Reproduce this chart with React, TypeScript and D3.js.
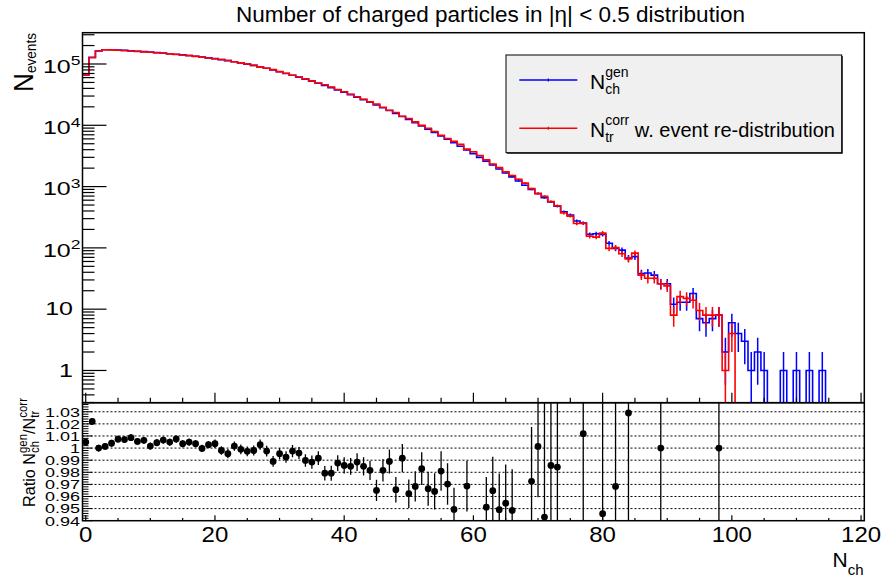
import React, { useEffect, useRef } from "react";
import * as d3 from "d3";

const FONT = "'Liberation Sans', Arial, Helvetica, sans-serif";

// ---------------- data (bins of width 1, centres 0..120) ----------------
const binCentres = d3.range(0, 121);

const genCounts = [
  66000, 129000, 163000, 171000, 170500, 169000, 166800, 164000, 161400, 158900,
  156000, 153100, 150300, 147200, 144200, 141000, 137400, 133700, 129700, 125900,
  122200, 118000, 113500, 108900, 104200, 99500, 94800, 89900, 85100, 80000,
  74800, 70100, 65500, 61000, 56600, 52500, 48500, 44800, 41200, 37800,
  34700, 31600, 28800, 26200, 23700, 21400, 19300, 17400, 15600, 13900,
  12400, 11000, 9800, 8650, 7640, 6730, 5920, 5190, 4540, 3960,
  3450, 3000, 2600, 2250, 1940, 1670, 1440, 1230, 1050, 900,
  770, 656, 562, 479, 389, 344, 275, 254, 166, 170,
  166, 119, 98, 92, 68, 72, 38, 39, 36, 26,
  26, 12, 13, 13, 18, 7, 6, 7, 8, 2,
  6, 4, 3, 1, 2, 1, 0, 0, 1, 0,
  1, 0, 1, 0, 1, 0, 0, 0, 0, 0,
  0,
];

const corrCounts = [
  65670, 126200, 163000, 170760, 169820, 167760, 165640, 162600, 160520, 157890,
  155740, 152410, 149310, 146470, 143130, 140490, 136720, 133220, 129740, 125550,
  121760, 118240, 114020, 108710, 104300, 99770, 94990, 89650, 85310, 80890,
  75150, 70620, 65660, 61250, 57180, 53120, 48910, 45750, 42070, 38270,
  35200, 32080, 29140, 26600, 24140, 22180, 19660, 17590, 16160, 14020,
  12890, 11360, 9970, 8950, 7920, 6860, 6100, 5470, 4880, 4090,
  3710, 3210, 2730, 2330, 2040, 1750, 1520, 1320, 1140, 925,
  769, 696, 570, 487, 370, 330, 250, 251, 155, 150,
  175, 98, 101, 80, 66, 82, 36, 32, 32, 26,
  24, 8, 16, 15, 14, 9.5, 8, 8, 8, 1,
  4, 0, 0, 0, 0, 0, 0, 0, 0, 0,
  0, 0, 0, 0, 0, 0, 0, 0, 0, 0,
  0,
];

// ratio gen/corr for bins 0..98 (null = outside the drawn range)
const ratioValues: (number | null)[] = [
  1.005, 1.022, 1.0, 1.0014, 1.004, 1.0074, 1.007, 1.0086, 1.0055, 1.0064,
  1.0017, 1.0045, 1.0066, 1.005, 1.0075, 1.0036, 1.005, 1.0036, 0.9997, 1.0028,
  1.0036, 0.998, 0.9954, 1.0017, 0.999, 0.9973, 0.998, 1.0028, 0.9975, 0.989,
  0.9954, 0.9926, 0.9975, 0.9959, 0.9898, 0.9884, 0.9917, 0.9793, 0.9793, 0.9876,
  0.9857, 0.9849, 0.9884, 0.9849, 0.9816, 0.965, 0.9816, 0.989, 0.9656, 0.9917,
  0.9623, 0.9683, 0.983, 0.9664, 0.9642, 0.981, 0.9703, 0.9493, null, 0.9686,
  null, null, 0.9512, 0.9648, 0.9491, 0.9545, 0.9485, null, null, 0.9725,
  1.0014, 0.943, 0.9857, 0.9843, null, null, null, 1.0119, null, null,
  0.9458, null, 0.9683, null, 1.029, null, null, null, null, 1.0,
  null, null, null, null, null, null, null, null, 1.0,
];

const ratioErrors: (number | null)[] = [
  0.0028, 0.0028, 0.0028, 0.0028, 0.0028, 0.0028, 0.0028, 0.0028, 0.0028, 0.0028,
  0.003, 0.003, 0.003, 0.003, 0.003, 0.003, 0.003, 0.003, 0.003, 0.003,
  0.0035, 0.0035, 0.0038, 0.0038, 0.004, 0.004, 0.0042, 0.0042, 0.0045, 0.0045,
  0.0047, 0.0048, 0.005, 0.005, 0.0052, 0.0055, 0.0057, 0.006, 0.0062, 0.0065,
  0.0068, 0.007, 0.0073, 0.0076, 0.008, 0.0088, 0.0092, 0.0099, 0.0105, 0.0116,
  0.0118, 0.0125, 0.0135, 0.014, 0.015, 0.0163, 0.0171, 0.018, null, 0.021,
  null, null, 0.025, 0.028, 0.03, 0.032, 0.034, null, null, 0.045,
  0.042, 0.1, 0.06, 0.06, null, null, null, 0.2, null, null,
  0.2, null, 0.2, null, 0.2, null, null, null, null, 0.2,
  null, null, null, null, null, null, null, null, 0.2,
];

const xTickValues = [0, 20, 40, 60, 80, 100, 120];
const xTickLabels = ["0", "20", "40", "60", "80", "100", "120"];
const logTickValues = [1, 10, 100, 1000, 10000, 100000];
const logTickLabels = ["1", "10", "10^2", "10^3", "10^4", "10^5"];
const ratioTickValues = [1.03, 1.02, 1.01, 1.0, 0.99, 0.98, 0.97, 0.96, 0.95, 0.94];
const ratioTickLabels = ["1.03", "1.02", "1.01", "1", "0.99", "0.98", "0.97", "0.96", "0.95", "0.94"];

const titleText = "Number of charged particles in |\u03b7| < 0.5 distribution";
const legendLabels = [
  { main: "N", sup: "gen", sub: "ch", tail: "" },
  { main: "N", sup: "corr", sub: "tr", tail: " w. event re-distribution" },
];

// ---------------- layout ----------------
const X0 = 82.5, X1 = 864.3;
const TY0 = 32.7, TY1 = 402.7;
const BY0 = 402.7, BY1 = 520.7;
const BLUE = "#0000ff";
const RED = "#ff0000";

type Piece =
  | { t: string; size: number; shift?: number }
  | { sup: string; sub: string; size: number; supShift: number; subShift: number };

function latex(
  parent: d3.Selection<any, any, any, any>,
  x: number,
  y: number,
  pieces: Piece[],
  opt: { anchor?: "start" | "end" | "middle"; rotate?: number; sx?: number; sy?: number; fitLength?: number } = {}
) {
  const outer = parent.append("g");
  const inner = outer.append("g");
  let cursor = 0;
  const addText = (t: string, size: number, dx: number, dy: number) => {
    const el = inner
      .append("text")
      .attr("x", dx)
      .attr("y", dy)
      .attr("font-family", FONT)
      .attr("font-size", size)
      .attr("fill", "#000")
      .style("white-space", "pre")
      .text(t);
    return (el.node() as SVGTextElement).getComputedTextLength();
  };
  for (const p of pieces) {
    if ("t" in p) {
      cursor += addText(p.t, p.size, cursor, p.shift || 0);
    } else {
      const w1 = addText(p.sup, p.size, cursor, p.supShift);
      const w2 = addText(p.sub, p.size, cursor, p.subShift);
      cursor += Math.max(w1, w2);
    }
  }
  const total = cursor;
  const anchor = opt.anchor || "start";
  const off = anchor === "end" ? -total : anchor === "middle" ? -total / 2 : 0;
  inner.attr("transform", `translate(${off},0)`);
  let sx = opt.sx ?? 1;
  if (opt.fitLength) sx = opt.fitLength / total;
  const sy = opt.sy ?? 1;
  outer.attr("transform", `translate(${x},${y}) rotate(${opt.rotate || 0}) scale(${sx},${sy})`);
  return outer;
}

function draw(svgEl: SVGSVGElement) {
  const svg = d3.select(svgEl);
  svg.selectAll("*").remove();

  const x = d3.scaleLinear().domain([-0.5, 120.5]).range([X0, X1]);
  const yTop = d3.scaleLog().domain([0.298, 3.24e5]).range([TY1, TY0]);
  const yRat = d3.scaleLinear().domain([0.94, 1.0375]).range([BY1, BY0]);

  svg.append("rect").attr("width", 882).attr("height", 583).attr("fill", "#fff");

  const defs = svg.append("defs");
  defs.append("clipPath").attr("id", "clipTop")
    .append("rect").attr("x", X0).attr("y", TY0).attr("width", X1 - X0).attr("height", TY1 - TY0);
  defs.append("clipPath").attr("id", "clipBot")
    .append("rect").attr("x", X0).attr("y", BY0).attr("width", X1 - X0).attr("height", BY1 - BY0);

  // ---------- title ----------
  latex(svg, 490.5, 22, [{ t: titleText, size: 22.5 }], { anchor: "middle" });

  // ---------- top pad ----------
  const top = svg.append("g");
  const yv = (c: number) => (c > 0 ? Math.max(TY0, Math.min(TY1, yTop(c))) : TY1);
  const histPath = (counts: number[]) => {
    let p = `M${x(-0.5)},${yv(counts[0])}`;
    counts.forEach((c, i) => {
      if (i > 0) p += `V${yv(c)}`;
      p += `H${x(binCentres[i] + 0.5)}`;
    });
    return p;
  };
  const drawHist = (counts: number[], color: string) => {
    const g = top.append("g").attr("clip-path", "url(#clipTop)");
    g.append("path").attr("d", histPath(counts)).attr("fill", "none")
      .attr("stroke", color).attr("stroke-width", 1.6);
    counts.forEach((c, i) => {
      if (c <= 0) return;
      const e = Math.sqrt(c);
      const lo = c - e;
      g.append("line")
        .attr("x1", x(binCentres[i])).attr("x2", x(binCentres[i]))
        .attr("y1", lo > 0 ? yv(lo) : TY1).attr("y2", yv(c + e))
        .attr("stroke", color).attr("stroke-width", 1.5);
    });
  };
  drawHist(genCounts, BLUE);
  drawHist(corrCounts, RED);

  // frame
  top.append("rect").attr("x", X0).attr("y", TY0).attr("width", X1 - X0).attr("height", TY1 - TY0)
    .attr("fill", "none").attr("stroke", "#000").attr("stroke-width", 1.5);

  // y ticks (log)
  const [lmin, lmax] = yTop.domain();
  for (let d = -1; d <= 5; d++) {
    for (let m = 1; m <= 9; m++) {
      const v = m * Math.pow(10, d);
      if (v < lmin || v > lmax) continue;
      const len = m === 1 ? 24 : 12;
      top.append("line").attr("x1", X0).attr("x2", X0 + len)
        .attr("y1", yTop(v)).attr("y2", yTop(v)).attr("stroke", "#000").attr("stroke-width", 1.2);
    }
  }
  logTickValues.forEach((v, i) => {
    const lab = logTickLabels[i];
    const yy = yTop(v);
    if (lab.includes("^")) {
      const [base, ex] = lab.split("^");
      latex(top, 80.5, yy + 8.7, [
        { t: base, size: 25 },
        { t: ex, size: 17.5, shift: -10 },
      ], { anchor: "end", sy: 0.74 });
    } else {
      latex(top, 73, yy + 6.2, [{ t: lab, size: 25 }], { anchor: "end", sy: 0.74 });
    }
  });

  // x ticks on top pad (bottom edge, pointing up)
  for (let v = 0; v <= 120; v += 5) {
    const len = v % 20 === 0 ? 10 : 5;
    top.append("line").attr("x1", x(v)).attr("x2", x(v)).attr("y1", TY1).attr("y2", TY1 - len)
      .attr("stroke", "#000").attr("stroke-width", 1.2);
  }

  // y title
  latex(svg, 33, 92, [
    { t: "N", size: 27 },
    { t: "events", size: 14, shift: 3 },
  ], { rotate: -90, fitLength: 59 });

  // legend
  const lg = svg.append("g");
  const LX0 = 506, LX1 = 841.7, LY0 = 55, LY1 = 152.7;
  lg.append("rect").attr("x", LX0 + 1).attr("y", LY0 + 1).attr("width", LX1 - LX0).attr("height", LY1 - LY0)
    .attr("fill", "#000");
  lg.append("rect").attr("x", LX0).attr("y", LY0).attr("width", LX1 - LX0).attr("height", LY1 - LY0)
    .attr("fill", "#f0f0f0").attr("stroke", "#000").attr("stroke-width", 1);
  const entryY = [80, 128.3];
  const entryColor = [BLUE, RED];
  legendLabels.forEach((lab, i) => {
    const yy = entryY[i];
    lg.append("line").attr("x1", 519.3).attr("x2", 577.3).attr("y1", yy).attr("y2", yy)
      .attr("stroke", entryColor[i]).attr("stroke-width", 1.5);
    lg.append("line").attr("x1", 548.3).attr("x2", 548.3).attr("y1", yy - 1.5).attr("y2", yy + 1.5)
      .attr("stroke", entryColor[i]).attr("stroke-width", 1.2);
    const pieces: Piece[] = [
      { t: lab.main, size: 21 },
      { sup: lab.sup, sub: lab.sub, size: 14, supShift: -12, subShift: 5 },
    ];
    if (lab.tail) pieces.push({ t: lab.tail, size: 20 });
    latex(lg, 590, yy + 8.5, pieces, { anchor: "start" });
  });

  // ---------- bottom pad ----------
  const bot = svg.append("g");
  // dotted grid
  ratioTickValues.forEach((v) => {
    if (v <= 0.9405) return;
    bot.append("line").attr("x1", X0).attr("x2", X1).attr("y1", yRat(v)).attr("y2", yRat(v))
      .attr("stroke", "#000").attr("stroke-width", 1).attr("stroke-dasharray", "2,2");
  });

  const pts = bot.append("g").attr("clip-path", "url(#clipBot)");
  ratioValues.forEach((r, i) => {
    const e = ratioErrors[i];
    if (r == null || e == null) return;
    const cx = x(binCentres[i]);
    pts.append("line").attr("x1", cx).attr("x2", cx)
      .attr("y1", yRat(r - e)).attr("y2", yRat(r + e))
      .attr("stroke", "#000").attr("stroke-width", 1.3);
    pts.append("circle").attr("cx", cx).attr("cy", yRat(r)).attr("r", 3.4).attr("fill", "#000");
  });

  bot.append("rect").attr("x", X0).attr("y", BY0).attr("width", X1 - X0).attr("height", BY1 - BY0)
    .attr("fill", "none").attr("stroke", "#000").attr("stroke-width", 1.5);

  // ratio y ticks
  for (let k = 0; k <= 48; k++) {
    const v = 0.94 + k * 0.002;
    if (v > 1.0375) break;
    const major = k % 5 === 0;
    bot.append("line").attr("x1", X0).attr("x2", X0 + (major ? 10 : 6))
      .attr("y1", yRat(v)).attr("y2", yRat(v)).attr("stroke", "#000").attr("stroke-width", 1);
  }
  ratioTickValues.forEach((v, i) => {
    latex(bot, 80, yRat(v) + 4.8, [{ t: ratioTickLabels[i], size: 18 }], { anchor: "end", sy: 0.76 });
  });

  // bottom x ticks
  for (let v = 0; v <= 120; v += 5) {
    const len = v % 20 === 0 ? 5.5 : 2.8;
    bot.append("line").attr("x1", x(v)).attr("x2", x(v)).attr("y1", BY1).attr("y2", BY1 - len)
      .attr("stroke", "#000").attr("stroke-width", 1.2);
  }
  xTickValues.forEach((v, i) => {
    latex(bot, x(v), 542, [{ t: xTickLabels[i], size: 24 }], { anchor: "middle", sy: 0.95 });
  });

  // x title
  latex(svg, 863.5, 566.7, [
    { t: "N", size: 21 },
    { t: "ch", size: 15, shift: 8 },
  ], { anchor: "end" });

  // ratio y title
  latex(svg, 35, 507, [
    { t: "Ratio N", size: 17 },
    { sup: "gen", sub: "ch", size: 12, supShift: -8, subShift: 4 },
    { t: "/N", size: 17 },
    { sup: "corr", sub: "tr", size: 12, supShift: -8, subShift: 4 },
  ], { rotate: -90, fitLength: 109 });
}

export default function App() {
  const ref = useRef<SVGSVGElement>(null);
  useEffect(() => {
    if (ref.current) draw(ref.current);
  }, []);
  return (
    <svg
      ref={ref}
      width={882}
      height={583}
      style={{ position: "fixed", left: 0, top: 0, display: "block" }}
    />
  );
}
